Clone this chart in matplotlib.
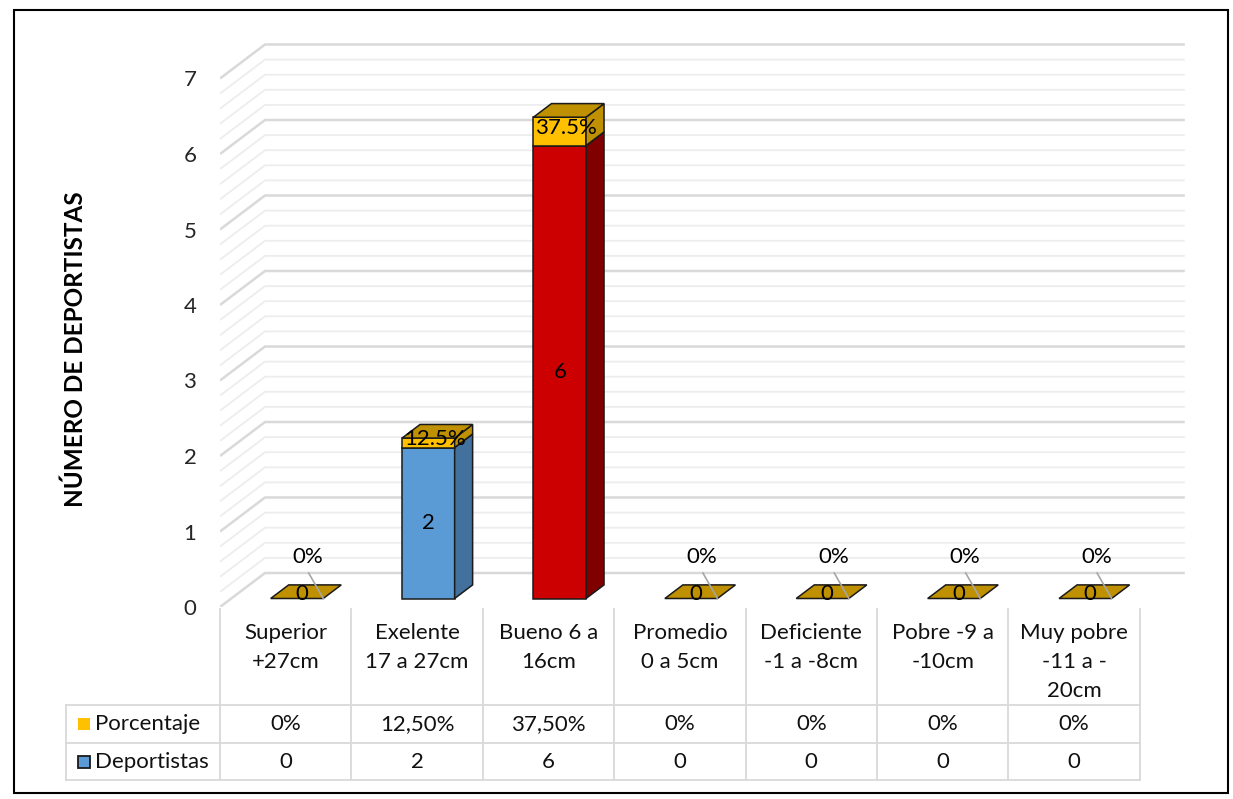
import numpy as np
import matplotlib.pyplot as plt
from matplotlib.patches import Polygon, Rectangle

plt.rcParams['font.family'] = ['Lato', 'DejaVu Sans']

# datos de la tabla
categorias = ["Superior\n+27cm", "Exelente\n17 a 27cm", "Bueno 6 a\n16cm", "Promedio\n0 a 5cm",
              "Deficiente\n-1 a -8cm", "Pobre -9 a\n-10cm", "Muy pobre\n-11 a -\n20cm"]
deportistas = [0, 2, 6, 0, 0, 0, 0]
porcentaje = [0, 0.125, 0.375, 0, 0, 0, 0]
pct_etiqueta = ["0%", "12.5%", "37.5%", "0%", "0%", "0%", "0%"]
pct_tabla = ["0%", "12,50%", "37,50%", "0%", "0%", "0%", "0%"]
y_ticks = [0, 1, 2, 3, 4, 5, 6, 7]

# colores por barra (frente, lateral)
frente = ["#5B9BD5", "#5B9BD5", "#CC0000", "#5B9BD5", "#5B9BD5", "#5B9BD5", "#5B9BD5"]
lateral = ["#41719C", "#41719C", "#800000", "#41719C", "#41719C", "#41719C", "#41719C"]
oro_frente = "#FFC000"
oro_oscuro = "#BF9000"
fs = 16

W, H = 1233, 799
fig = plt.figure(figsize=(W / 100, H / 100), dpi=100)

# escala: 131.4 px por categoria, 75.5 px por unidad
ax = fig.add_axes([220 / W, (H - 607) / H, 970 / W, 567 / H])
ax.set_xlim(-0.5, -0.5 + 970 / 131.4)
ax.set_ylim(0, 567 / 75.5)
DX, DY = 45 / 131.4, 34 / 75.5
n = len(categorias)

# lineas de cuadricula (pared lateral y fondo)
for v in np.arange(0, 7.01, 0.2):
    mayor = abs(v - round(v)) < 1e-6
    ax.plot([-0.5, -0.5 + DX, n - 0.5 + DX], [v, v + DY, v + DY],
            color="#D9D9D9" if mayor else "#EDEDED", lw=1.8 if mayor else 1.3,
            zorder=1, solid_capstyle="butt")

bw = 0.40
f0, bd = 0.25, 0.40
ddx, ddy = bd * DX, bd * DY
y0 = f0 * DY
ec = "#1A1A1A"


def segmento(x0, a, b, cf, cl, ct, z):
    x1 = x0 + bw
    ax.add_patch(Rectangle((x0, y0 + a), bw, b - a, fc=cf, ec=ec, lw=1.1, zorder=z))
    ax.add_patch(Polygon([(x1, y0 + a), (x1 + ddx, y0 + a + ddy), (x1 + ddx, y0 + b + ddy), (x1, y0 + b)],
                         closed=True, fc=cl, ec=ec, lw=1.1, zorder=z))
    ax.add_patch(Polygon([(x0, y0 + b), (x1, y0 + b), (x1 + ddx, y0 + b + ddy), (x0 + ddx, y0 + b + ddy)],
                         closed=True, fc=ct, ec=ec, lw=1.1, zorder=z))


for i in range(n):
    h, p = deportistas[i], porcentaje[i]
    x0 = i - bw / 2 + f0 * DX
    xc = x0 + bw / 2
    if h > 0:
        segmento(x0, 0, h, frente[i], lateral[i], lateral[i], 3)
        segmento(x0, h, h + p, oro_frente, oro_oscuro, oro_oscuro, 4)
        ax.text(xc, y0 + h / 2, str(h), ha="center", va="center", fontsize=fs, zorder=6)
        ax.text(xc + 0.05, y0 + h + p / 2 + 0.05, pct_etiqueta[i], ha="center", va="center",
                fontsize=fs, zorder=6)
    else:
        x1 = x0 + bw
        ax.add_patch(Polygon([(x0, y0), (x1, y0), (x1 + ddx, y0 + ddy), (x0 + ddx, y0 + ddy)],
                             closed=True, fc=oro_oscuro, ec=ec, lw=1.1, zorder=3))
        ax.plot([i + 0.175, x1], [0.45, y0], color="#A6A6A6", lw=1.2, zorder=5)
        ax.text(xc + ddx / 4, y0 + 0.06, "0", ha="center", va="center", fontsize=fs, zorder=6)
        ax.text(i + 0.17, 0.66, pct_etiqueta[i], ha="center", va="center", fontsize=fs, zorder=6)

ax.set_yticks(y_ticks)
ax.set_yticklabels([str(t) for t in y_ticks], fontsize=fs, color="#262626")
ax.tick_params(axis="y", length=0, pad=17)
ax.set_xticks([])
for s in ax.spines.values():
    s.set_visible(False)
ax.patch.set_alpha(0)

fig.text(75 / W, 1 - 349 / H, "NÚMERO DE DEPORTISTAS", rotation=90, ha="center", va="center",
         fontsize=17.5, fontweight="bold")

# tabla de datos
tax = fig.add_axes([220 / W, 0, 970 / W, 199 / H])
tax.set_xlim(ax.get_xlim())
tax.set_ylim(799, 600)
tax.axis("off")
gris = "#D9D9D9"
xl = -0.5 - (220 - 66) / 131.4
for k in range(n + 1):
    tax.plot([k - 0.5, k - 0.5], [609, 780], color=gris, lw=1.3, clip_on=False)
for yy in [705, 743, 780]:
    tax.plot([xl, n - 0.5], [yy, yy], color=gris, lw=1.3, clip_on=False)
tax.plot([xl, xl], [705, 780], color=gris, lw=1.3, clip_on=False)

for i in range(n):
    tax.text(i, 623, categorias[i], ha="center", va="top", fontsize=fs, linespacing=1.55,
             color="#111111")
    tax.text(i, 724, pct_tabla[i], ha="center", va="center", fontsize=fs, color="#111111")
    tax.text(i, 762, str(deportistas[i]), ha="center", va="center", fontsize=fs, color="#111111")

xs = -0.5 - (220 - 78) / 131.4
tax.add_patch(Rectangle((xs, 718), 12 / 131.4, 12, fc=oro_frente, ec="none", clip_on=False))
tax.add_patch(Rectangle((xs, 756), 12 / 131.4, 12, fc="#5B9BD5", ec="#1A1A1A", lw=1.3, clip_on=False))
xt = -0.5 - (220 - 95) / 131.4
tax.text(xt, 724, "Porcentaje", ha="left", va="center", fontsize=fs, color="#111111")
tax.text(xt, 762, "Deportistas", ha="left", va="center", fontsize=fs, color="#111111")

# marco exterior
fig.patches.append(Rectangle((14 / W, (H - 793) / H), (1228 - 14) / W, (793 - 10) / H,
                             transform=fig.transFigure, fill=False, ec="black", lw=1.5))

fig.savefig("out.png", dpi=100)
